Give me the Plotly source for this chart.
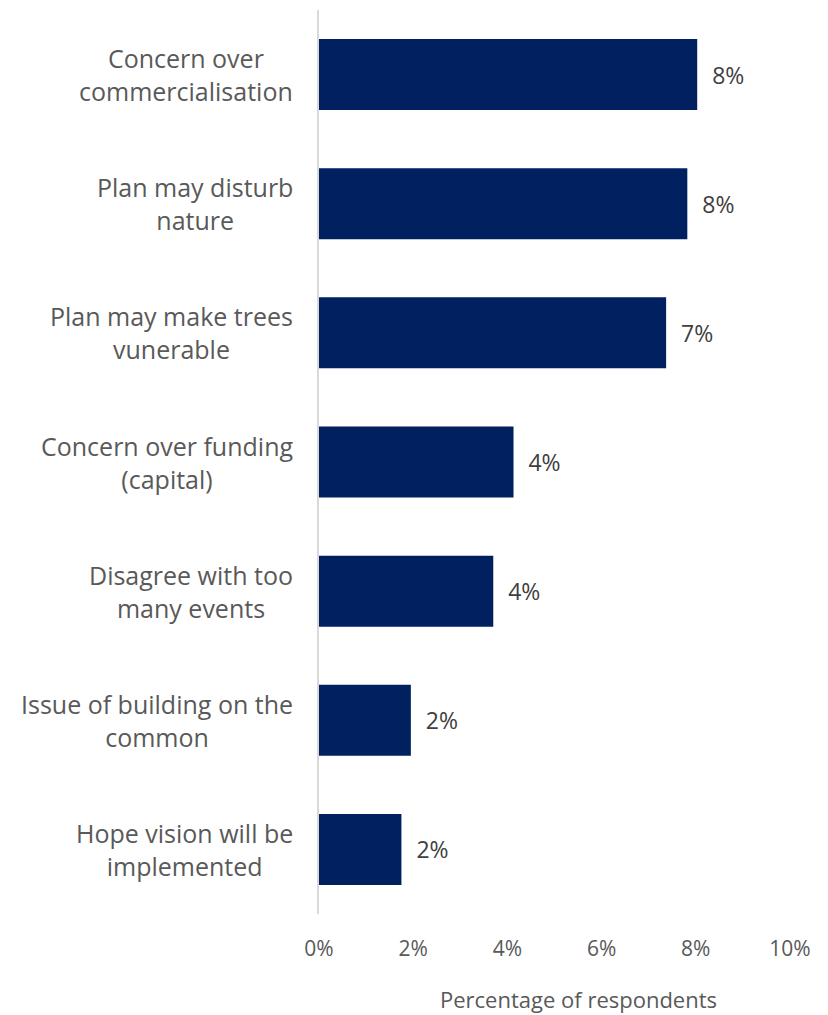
import plotly.graph_objects as go

categories = [
    "Concern over<br>commercialisation",
    "Plan may disturb<br>nature",
    "Plan may make trees<br>vunerable",
    "Concern over funding<br>(capital)",
    "Disagree with too<br>many events",
    "Issue of building on the<br>common",
    "Hope vision will be<br>implemented",
]
values = [8.03, 7.82, 7.37, 4.13, 3.70, 1.95, 1.75]
value_labels = ["8%", "8%", "7%", "4%", "4%", "2%", "2%"]
tick_vals = [0, 2, 4, 6, 8, 10]
tick_text = ["0%", "2%", "4%", "6%", "8%", "10%"]

FONT = "Open Sans"
GRAY = "#595959"

fig = go.Figure()
fig.add_trace(go.Bar(
    y=categories,
    x=values,
    orientation="h",
    marker=dict(color="#002060", line=dict(width=0)),
    text=["  " + t for t in value_labels],
    textposition="outside",
    cliponaxis=False,
    textfont=dict(family=FONT, size=23, color="#404040"),
    hoverinfo="skip",
))

# category labels: centered multi-line blocks, right edge near the axis
for cat in categories:
    fig.add_annotation(
        text=cat, xref="paper", x=0, yref="y", y=cat,
        xanchor="right", yanchor="middle", xshift=-24,
        align="center", showarrow=False,
        font=dict(family=FONT, size=25, color=GRAY),
    )

fig.update_layout(
    width=820, height=1007,
    margin=dict(l=311, r=38, t=2, b=101),
    paper_bgcolor="white",
    plot_bgcolor="white",
    bargap=0.45,
    showlegend=False,
    font=dict(family=FONT, color=GRAY),
)
fig.update_yaxes(
    autorange="reversed",
    showline=True, linecolor="#d9d9d9", linewidth=2,
    showgrid=False, ticks="", showticklabels=False,
)
fig.update_xaxes(
    range=[0, 10],
    tickvals=tick_vals, ticktext=tick_text,
    showgrid=False, zeroline=False, showline=False, ticks="",
    tickfont=dict(family=FONT, size=21, color=GRAY),
    ticklabelstandoff=20,
)
fig.add_annotation(
    text="Percentage of respondents",
    xref="paper", yref="paper", x=0.55, y=0, yshift=-85,
    xanchor="center", yanchor="middle", showarrow=False,
    font=dict(family=FONT, size=22, color=GRAY),
)

fig.write_html("out.html")
